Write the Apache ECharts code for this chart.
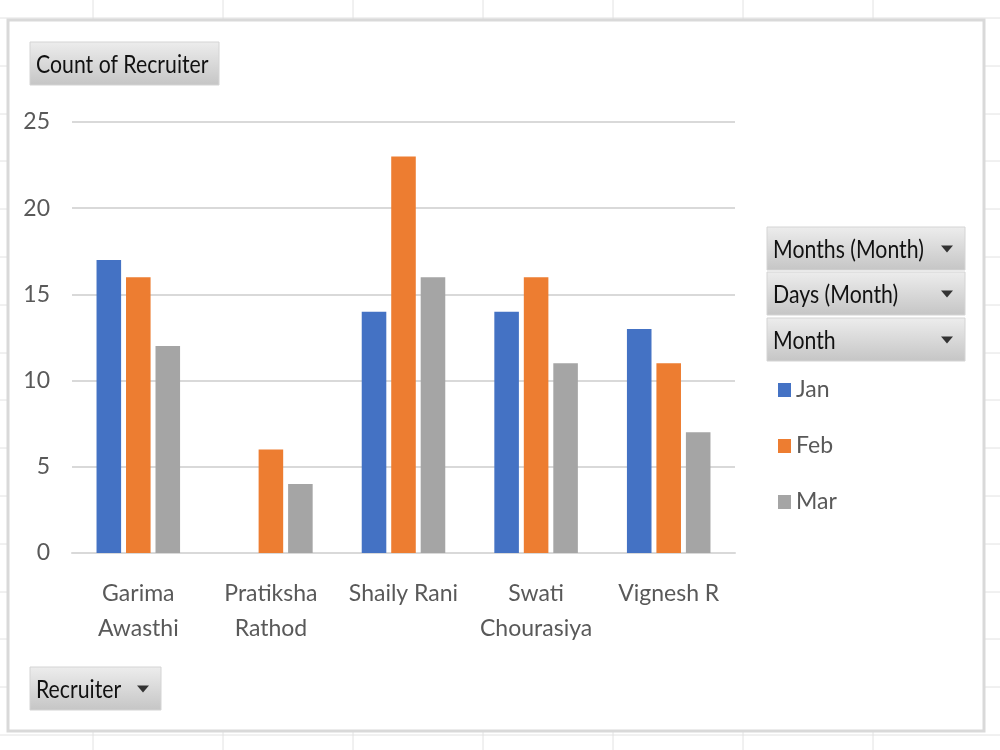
<!DOCTYPE html>
<html>
<head>
<meta charset="utf-8">
<script src="https://cdn.jsdelivr.net/npm/echarts@6/dist/echarts.min.js"></script>
<style>
  body { margin: 0; background: #fff; }
  #chart { width: 1000px; height: 750px; }
</style>
</head>
<body>
<div id="chart"></div>
<script>
// pivot chart data: count of recruiter per month
var recruiters = ["Garima\nAwasthi", "Pratiksha\nRathod", "Shaily Rani", "Swati\nChourasiya", "Vignesh R"];
var months = ["Jan", "Feb", "Mar"];
var janCounts = [17, null, 14, 14, 13];
var febCounts = [16, 6, 23, 16, 11];
var marCounts = [12, 4, 16, 11, 7];
var colors = ["#4472C4", "#ED7D31", "#A5A5A5"];

var FONT = "Lato, 'Liberation Sans', sans-serif";

var chart = echarts.init(document.getElementById("chart"));

// excel sheet grid behind the chart frame
var sheet = [];
[93, 223, 353, 483, 613, 743, 873].forEach(function (x) {
  sheet.push({ type: "line", z: -20, silent: true,
    shape: { x1: x, y1: 0, x2: x, y2: 750 },
    style: { stroke: "#e2e2e2", lineWidth: 1 } });
});
for (var y = 18; y < 750; y += 47.8) {
  sheet.push({ type: "line", z: -20, silent: true,
    shape: { x1: 0, y1: Math.round(y), x2: 1000, y2: Math.round(y) },
    style: { stroke: "#e2e2e2", lineWidth: 1 } });
}
sheet.push({ type: "rect", z: -10, silent: true,
  shape: { x: 8, y: 20, width: 976, height: 711 },
  style: { fill: "#fff", stroke: "#d9d9d9", lineWidth: 3 } });

function fieldButton(label, x, y, w, h, arrow) {
  var grad = new echarts.graphic.LinearGradient(0, 0, 0, 1, [
    { offset: 0, color: "#ededed" },
    { offset: 1, color: "#c5c5c5" }
  ]);
  var els = [
    { type: "rect", z: 10, shape: { x: x, y: y, width: w, height: h },
      style: { fill: grad, stroke: "#d4d4d4", lineWidth: 1 } },
    { type: "text", z: 11, x: x + 6, y: y + h / 2 + 1, scaleX: 0.85,
      style: { text: label, font: "25px " + FONT, fill: "#111",
        verticalAlign: "middle" } }
  ];
  if (arrow) {
    var ax = x + w - 18, ay = y + h / 2;
    els.push({ type: "polygon", z: 11,
      shape: { points: [[ax - 6, ay - 3], [ax + 6, ay - 3], [ax, ay + 4]] },
      style: { fill: "#333" } });
  }
  return els;
}

var buttons = [].concat(
  fieldButton("Count of Recruiter", 30, 42, 189, 43, false),
  fieldButton("Months (Month)", 767, 227, 198, 43, true),
  fieldButton("Days (Month)", 767, 272, 198, 43, true),
  fieldButton("Month", 767, 318, 198, 43, true),
  fieldButton("Recruiter", 30, 667, 131, 43, true)
);

var seriesData = [janCounts, febCounts, marCounts];

var option = {
  animation: false,
  textStyle: { fontFamily: FONT },
  graphic: sheet.concat(buttons),
  grid: { left: 72, right: 265, top: 122, bottom: 197 },
  legend: {
    orient: "vertical",
    left: 773,
    top: 372,
    itemWidth: 13,
    itemHeight: 14,
    itemGap: 30,
    icon: "rect",
    data: months,
    textStyle: { fontSize: 23, color: "#595959", fontFamily: FONT, lineHeight: 26 }
  },
  xAxis: {
    type: "category",
    data: recruiters,
    axisLine: { lineStyle: { color: "#d9d9d9", width: 2 } },
    axisTick: { show: false },
    axisLabel: { fontSize: 23, color: "#595959", margin: 23, lineHeight: 35, interval: 0, fontFamily: FONT }
  },
  yAxis: {
    type: "value",
    min: 0,
    max: 25,
    interval: 5,
    axisLine: { show: false },
    axisTick: { show: false },
    splitLine: { lineStyle: { color: "#d9d9d9", width: 2 } },
    axisLabel: { fontSize: 23, color: "#595959", margin: 22, fontFamily: FONT }
  },
  series: months.map(function (m, i) {
    return {
      name: m,
      type: "bar",
      data: seriesData[i],
      itemStyle: { color: colors[i] },
      barGap: "20%",
      barCategoryGap: "37%"
    };
  })
};

chart.setOption(option);
</script>
</body>
</html>
